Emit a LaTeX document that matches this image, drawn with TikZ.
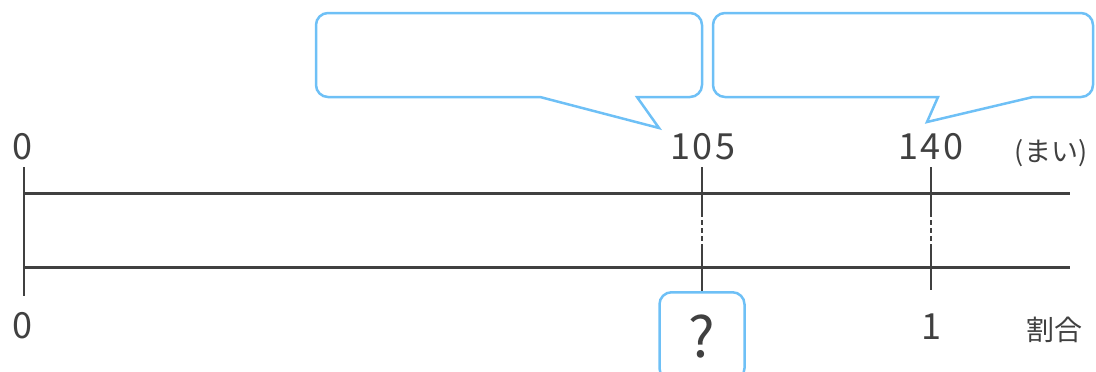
\documentclass[tikz,border=0pt]{standalone}
\usepackage{fontspec}
\setmainfont{Noto Sans CJK JP}
\newfontfamily\numfont[LetterSpace=8]{Noto Sans CJK JP}
\usepackage{tikz}
\usetikzlibrary{positioning}

\definecolor{axisgray}{RGB}{64,64,64}
\definecolor{bubbleblue}{RGB}{110,192,246}

\begin{document}
\begin{tikzpicture}[
                            x=1pt,
                            y=-1pt,
                            semithick
                        ]
                        \tikzstyle{num}=[text=axisgray,font=\numfont\fontsize{36}{36}\selectfont,inner sep=0pt]
                        \tikzstyle{unit}=[text=axisgray,font=\fontsize{27}{27}\selectfont,inner sep=0pt]
                        \tikzstyle{axis}=[draw=axisgray,line width=3pt]
                        \tikzstyle{tick}=[draw=axisgray,line width=2pt]
                        \tikzstyle{gap}=[draw=axisgray,line width=1.2pt,dash pattern=on 5pt off 3pt]
                        \tikzstyle{bubble}=[draw=bubbleblue,line width=2.5pt,line join=miter]

                        \useasboundingbox (0,0) rectangle (1096,372);

                        % numbers on the upper line
                        \node[num]  (top0)   at (22,147)   {0};
                        \node[num]  (top105) at (703,147)  {105};
                        \node[num]  (top140) at (931,147)  {140};
                        \node[unit] (mai)    at (1051,153) {(まい)};

                        % numbers on the lower line
                        \node[num]  (bot0)   at (22,326)   {0};
                        \node[num]  (bot1)   at (931,327)  {1};
                        \node[unit,font=\fontsize{28}{28}\selectfont] (wari) at (1054,330) {割合};
                        \node[draw=bubbleblue,line width=2.5pt,rounded corners=12pt,
                              minimum width=85pt,minimum height=88pt,anchor=north,
                              text=axisgray,font=\fontsize{56}{56}\selectfont]
                                    (ask) at (702,291) {?};

                        % the two lines
                        \coordinate (a0) at (24,193);
                        \coordinate (a1) at (1070,193);
                        \coordinate (b0) at (24,267);
                        \coordinate (b1) at (1070,267);
                        \draw[axis] (a0) -- (a1);
                        \draw[axis] (b0) -- (b1);
                        \draw[tick] (24,167) -- (24,296);

                        % ticks
                        \coordinate (p1) at (702,167);
                        \coordinate (p2) at (702,212);
                        \coordinate (p3) at (702,247);
                        \coordinate (q1) at (931,167);
                        \coordinate (q2) at (931,212);
                        \coordinate (q3) at (931,247);
                        \coordinate (q4) at (931,290);
                        \draw[tick] (p1) -- (p2);
                        \draw[gap]  ([yshift=8pt]p2) -- (p3);
                        \draw[tick] (p3) -- (p3 |- ask.north);
                        \draw[tick] (q1) -- (q2);
                        \draw[gap]  ([yshift=8pt]q2) -- (q3);
                        \draw[tick] (q3) -- (q4);

                        % speech bubbles
                        \draw[bubble] (659,128) -- (637,97) [rounded corners=12pt] -- (702,97) -- (702,13)
                              -- (316,13) -- (316,97) [sharp corners] -- (540,97) -- cycle;
                        \draw[bubble] (927,122) -- (938,97) [rounded corners=12pt] -- (713,97) -- (713,13)
                              -- (1093,13) -- (1093,97) [sharp corners] -- (1033,97) -- cycle;
                    \end{tikzpicture}
\end{document}
